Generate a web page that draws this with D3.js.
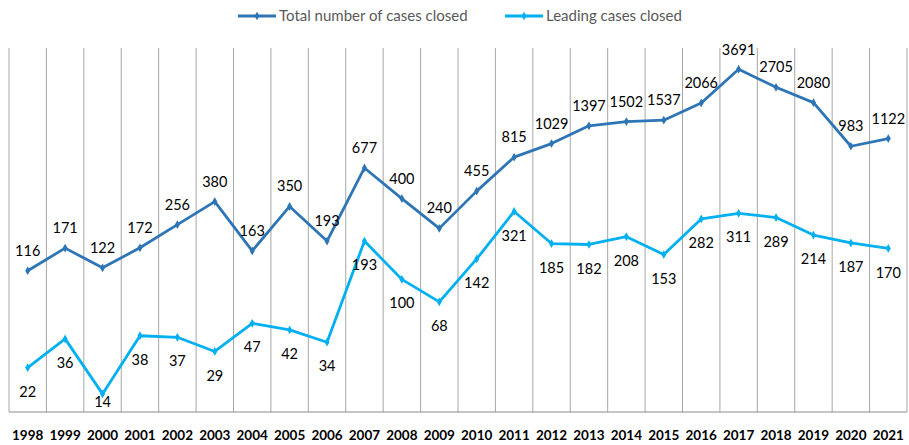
<!DOCTYPE html>
<html lang="en">
<head>
<meta charset="utf-8">
<title>Cases closed</title>
<script src="https://cdn.jsdelivr.net/npm/d3@7"></script>
<style>
  body { margin: 0; background: #fff; }
  text { font-family: Lato, "Open Sans", sans-serif; }
</style>
</head>
<body>
<script>
// chart data
var years = ["1998","1999","2000","2001","2002","2003","2004","2005","2006","2007","2008","2009",
             "2010","2011","2012","2013","2014","2015","2016","2017","2018","2019","2020","2021"];
var totalClosed = [116,171,122,172,256,380,163,350,193,677,400,240,455,815,1029,1397,1502,1537,2066,3691,2705,2080,983,1122];
var leadingClosed = [22,36,14,38,37,29,47,42,34,193,100,68,142,321,185,182,208,153,282,311,289,214,187,170];
var seriesNames = ["Total number of cases closed", "Leading cases closed"];

var w = 909, h = 445;
var plotLeft = 9, plotRight = 907, plotTop = 48, plotBottom = 412;

var svg = d3.select("body").append("svg")
  .attr("width", w).attr("height", h);

var x = d3.scaleBand().domain(years).range([plotLeft, plotRight]);
// log axis, range nudged so points sit where the reference draws them
var y = d3.scaleLog().domain([10, 5000]).range([plotBottom + 1.5, 51.5]);

// vertical gridlines between categories
var edges = years.map(function(d) { return x(d); }).concat([plotRight]);
svg.selectAll("line.grid").data(edges).enter().append("line")
  .attr("class", "grid")
  .attr("x1", function(d) { return d; }).attr("x2", function(d) { return d; })
  .attr("y1", plotTop).attr("y2", plotBottom)
  .attr("stroke", "#a6a6a6").attr("stroke-width", 1);

// bottom axis line
svg.append("line")
  .attr("x1", plotLeft).attr("x2", plotRight)
  .attr("y1", plotBottom).attr("y2", plotBottom)
  .attr("stroke", "#8c8c8c").attr("stroke-width", 1);

// year labels
svg.selectAll("text.year").data(years).enter().append("text")
  .attr("class", "year")
  .attr("x", function(d) { return x(d) + x.bandwidth() / 2; })
  .attr("y", 440)
  .attr("text-anchor", "middle")
  .attr("font-size", "13.5px")
  .attr("font-weight", "bold")
  .attr("fill", "#000")
  .text(function(d) { return d; });

var series = [
  { name: seriesNames[0], values: totalClosed, color: "#2e75b6", dy: -20 },
  { name: seriesNames[1], values: leadingClosed, color: "#00b0f0", dy: 24 }
];

var line = d3.line()
  .x(function(d, i) { return x(years[i]) + x.bandwidth() / 2; })
  .y(function(d) { return y(d); });

var diamond = d3.symbol().type(d3.symbolDiamond).size(22);

series.forEach(function(s) {
  svg.append("path")
    .datum(s.values)
    .attr("d", line)
    .attr("fill", "none")
    .attr("stroke", s.color)
    .attr("stroke-width", 2.8)
    .attr("stroke-linejoin", "round");

  svg.selectAll(null).data(s.values).enter().append("path")
    .attr("d", diamond)
    .attr("transform", function(d, i) {
      return "translate(" + (x(years[i]) + x.bandwidth() / 2) + "," + y(d) + ")";
    })
    .attr("fill", s.color);

  svg.selectAll(null).data(s.values).enter().append("text")
    .attr("x", function(d, i) { return x(years[i]) + x.bandwidth() / 2; })
    .attr("y", function(d) {
      var c = y(d) + s.dy;
      return Math.max(plotTop + 2, Math.min(plotBottom - 10, c));
    })
    .attr("dy", "0.35em")
    .attr("text-anchor", "middle")
    .attr("font-size", "14.5px")
    .attr("fill", "#000")
    .text(function(d) { return d; });
});

// legend
var legend = [
  { name: seriesNames[0], color: "#2e75b6", x0: 238 },
  { name: seriesNames[1], color: "#00b0f0", x0: 505 }
];
legend.forEach(function(l) {
  svg.append("line")
    .attr("x1", l.x0).attr("x2", l.x0 + 38)
    .attr("y1", 16).attr("y2", 16)
    .attr("stroke", l.color).attr("stroke-width", 2.8);
  svg.append("path")
    .attr("d", diamond)
    .attr("transform", "translate(" + (l.x0 + 19) + ",16)")
    .attr("fill", l.color);
  svg.append("text")
    .attr("x", l.x0 + 41).attr("y", 16)
    .attr("dy", "0.35em")
    .attr("font-size", "15px")
    .attr("fill", "#595959")
    .text(l.name);
});
</script>
</body>
</html>
